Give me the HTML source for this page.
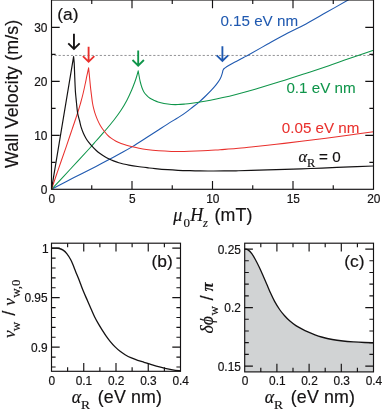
<!DOCTYPE html>
<html lang="en"><head><meta charset="utf-8"><title>Domain wall velocity</title>
<style>html,body{margin:0;padding:0;background:#fff}body{width:382px;height:414px;overflow:hidden}svg{display:block}text{font-family:"Liberation Sans",sans-serif;fill:#141213;stroke:#141213;stroke-width:0.18px}.an{stroke-width:0.06px}.se{font-family:"Liberation Serif",serif}.it{font-family:"Liberation Serif",serif;font-style:italic}.si{font-style:italic}.bd{font-weight:bold}.tk{font-size:11.9px}.lb{letter-spacing:0.15px}.ax{stroke:#141213;stroke-width:1.15;fill:none}.cv{fill:none;stroke-width:1.05;stroke-linejoin:round}.ar{fill:none;stroke-width:1.85;stroke-linejoin:miter;stroke-miterlimit:10}</style></head><body>
<svg width="382" height="414" viewBox="0 0 382 414">
<rect width="382" height="414" fill="#fff"/>
<defs><clipPath id="ca"><rect x="51.5" y="-1" width="322" height="190.3"/></clipPath></defs>
<path d="M51.5,55.45H373.5" stroke="#6d6e71" stroke-width="0.75" stroke-dasharray="2.2 1.917" stroke-dashoffset="1.16" fill="none"/>
<g clip-path="url(#ca)">
<path class="cv" style="stroke-width:1.1" stroke="#1f59b0" d="M51.5,189.3C55.25,187.35 66.58,181.42 74,177.6C81.42,173.78 90.23,169.37 96,166.4C101.77,163.43 104.42,162.03 108.6,159.8C112.78,157.57 117.13,155.2 121.1,153C125.07,150.8 128.2,149.13 132.4,146.6C136.6,144.07 141.9,140.62 146.3,137.8C150.7,134.98 154.62,132.4 158.8,129.7C162.98,127 167.87,123.82 171.4,121.6C174.93,119.38 177.52,117.98 180,116.4C182.48,114.82 184.2,113.63 186.3,112.1C188.4,110.57 190.52,108.83 192.6,107.2C194.68,105.57 196.72,104.08 198.8,102.3C200.88,100.52 203,98.52 205.1,96.5C207.2,94.48 209.52,92.22 211.4,90.2C213.28,88.18 214.93,86.3 216.4,84.4C217.87,82.5 219.25,80.57 220.2,78.8C221.15,77.03 221.65,75.18 222.1,73.8C222.55,72.42 222.77,71.05 222.9,70.5L222.9,70.5C223,70.3 223.22,69.67 223.5,69.3C223.78,68.93 223.73,68.93 224.6,68.3C225.47,67.67 226.77,66.65 228.7,65.5C230.63,64.35 233.65,62.77 236.2,61.4C238.75,60.03 241.9,58.42 244,57.3C246.1,56.18 244.85,56.9 248.8,54.7C252.75,52.5 261.2,47.7 267.7,44.1C274.2,40.5 281.42,36.47 287.8,33.1C294.18,29.73 299.63,27.32 306,23.9C312.37,20.48 318.98,16.58 326,12.6C333.02,8.62 343.6,2.57 348.1,0C352.6,-2.57 352.18,-2.33 353,-2.8"/>
<path class="cv" stroke="#0f954a" d="M51.5,189.3C54.58,186 63.6,176.38 70,169.5C76.4,162.62 85.57,152.75 89.9,148C94.23,143.25 93.57,143.77 96,141C98.43,138.23 101.57,134.82 104.5,131.4C107.43,127.98 110.85,124.02 113.6,120.5C116.35,116.98 118.8,113.63 121,110.3C123.2,106.97 125,103.92 126.8,100.5C128.6,97.08 130.43,92.97 131.8,89.8C133.17,86.63 134.17,83.8 135,81.5C135.83,79.2 136.27,77.78 136.8,76C137.33,74.22 137.97,71.67 138.2,70.8L138.2,70.8C138.37,71.75 138.85,74.63 139.2,76.5C139.55,78.37 139.83,80.12 140.3,82C140.77,83.88 141.4,86.13 142,87.8C142.6,89.47 143.08,90.7 143.9,92C144.72,93.3 145.88,94.57 146.9,95.6C147.92,96.63 148.85,97.43 150,98.2C151.15,98.97 152.47,99.57 153.8,100.2C155.13,100.83 156.3,101.45 158,102C159.7,102.55 161.77,103.08 164,103.5C166.23,103.92 169.07,104.32 171.4,104.5C173.73,104.68 175.7,104.68 178,104.6C180.3,104.52 182.87,104.23 185.2,104C187.53,103.77 189.53,103.52 192,103.2C194.47,102.88 196.93,102.6 200,102.1C203.07,101.6 206.58,100.95 210.4,100.2C214.22,99.45 218.63,98.57 222.9,97.6C227.17,96.63 230.63,95.8 236,94.4C241.37,93 247.72,91.33 255.1,89.2C262.48,87.07 271.92,84.22 280.3,81.6C288.68,78.98 297.3,76.15 305.4,73.5C313.5,70.85 321.85,68.1 328.9,65.7C335.95,63.3 340.27,61.68 347.7,59.1C355.13,56.52 369.2,51.68 373.5,50.2"/>
<path class="cv" stroke="#e9302d" d="M51.5,189.3C52.67,185.88 56.08,175.8 58.5,168.8C60.92,161.8 63.75,153.83 66,147.3C68.25,140.77 70.07,135.32 72,129.6C73.93,123.88 76.17,117.43 77.6,113C79.03,108.57 79.68,106.25 80.6,103C81.52,99.75 82.32,96.75 83.1,93.5C83.88,90.25 84.68,86.38 85.3,83.5C85.92,80.62 86.25,78.82 86.8,76.2C87.35,73.58 88.3,69.2 88.6,67.8L88.6,67.8C88.73,69.12 89.1,72.63 89.4,75.7C89.7,78.77 90.07,83.05 90.4,86.2C90.73,89.35 91.05,91.8 91.4,94.6C91.75,97.4 92.12,100.67 92.5,103C92.88,105.33 93.23,106.73 93.7,108.6C94.17,110.47 94.67,112.32 95.3,114.2C95.93,116.08 96.67,118.02 97.5,119.9C98.33,121.78 99.27,123.73 100.3,125.5C101.33,127.27 102.53,128.95 103.7,130.5C104.87,132.05 106.07,133.52 107.3,134.8C108.53,136.08 109.65,137.13 111.1,138.2C112.55,139.27 114.33,140.33 116,141.2C117.67,142.07 119.35,142.73 121.1,143.4C122.85,144.07 124.62,144.63 126.5,145.2C128.38,145.77 130.32,146.28 132.4,146.8C134.48,147.32 136.68,147.85 139,148.3C141.32,148.75 143,149.08 146.3,149.5C149.6,149.92 154.62,150.48 158.8,150.8C162.98,151.12 167.2,151.3 171.4,151.4C175.6,151.5 179.9,151.45 184,151.4C188.1,151.35 192,151.23 196,151.1C200,150.97 204,150.83 208,150.6C212,150.37 215.33,150.05 220,149.7C224.67,149.35 230.82,148.95 236,148.5C241.18,148.05 244.38,147.7 251.1,147C257.82,146.3 267.92,145.27 276.3,144.3C284.68,143.33 293.12,142.22 301.4,141.2C309.68,140.18 317.9,139.23 326,138.2C334.1,137.17 342.08,136.07 350,135C357.92,133.93 369.58,132.33 373.5,131.8"/>
<path class="cv" style="stroke-width:1.18" stroke="#141213" d="M51.5,189.3L73.6,56.6L73.6,56.6C73.7,57.67 74.05,60.68 74.2,63C74.35,65.32 74.38,67.52 74.5,70.5C74.62,73.48 74.75,77.42 74.9,80.9C75.05,84.38 75.22,88.55 75.4,91.4C75.58,94.25 75.82,96.07 76,98C76.18,99.93 76.23,100.5 76.5,103C76.77,105.5 77.1,110.08 77.6,113C78.1,115.92 78.9,118.1 79.5,120.5C80.1,122.9 80.53,125.23 81.2,127.4C81.87,129.57 82.67,131.62 83.5,133.5C84.33,135.38 85.32,137.22 86.2,138.7C87.08,140.18 87.8,141.13 88.8,142.4C89.8,143.67 91,145 92.2,146.3C93.4,147.6 94.7,149 96,150.2C97.3,151.4 98.58,152.45 100,153.5C101.42,154.55 102.97,155.58 104.5,156.5C106.03,157.42 107.7,158.27 109.2,159C110.7,159.73 111.9,160.27 113.5,160.9C115.1,161.53 117.13,162.28 118.8,162.8C120.47,163.32 121.82,163.62 123.5,164C125.18,164.38 126.53,164.68 128.9,165.1C131.27,165.52 134.52,166.05 137.7,166.5C140.88,166.95 145.1,167.45 148,167.8C150.9,168.15 151.82,168.28 155.1,168.6C158.38,168.92 163.88,169.42 167.7,169.7C171.52,169.98 174.28,170.13 178,170.3C181.72,170.47 186.33,170.6 190,170.7C193.67,170.8 196.33,170.85 200,170.9C203.67,170.95 208,170.99 212,171C216,171.01 220,170.98 224,170.95C228,170.92 231.48,170.89 236,170.8C240.52,170.71 244.38,170.6 251.1,170.4C257.82,170.2 267.92,169.87 276.3,169.6C284.68,169.33 293.78,169.05 301.4,168.8C309.02,168.55 313.9,168.42 322,168.1C330.1,167.78 341.42,167.25 350,166.9C358.58,166.55 369.58,166.15 373.5,166"/>
</g>
<path class="ar" stroke="#141213" d="M73.95,33.8V48.5M68.25,43.3L73.95,48.9L79.65,43.3"/>
<path class="ar" stroke="#e9302d" d="M88.6,46.8V61.4M82.9,56.2L88.6,61.8L94.3,56.2"/>
<path class="ar" stroke="#0f954a" d="M138.2,50.4V65.2M132.5,60L138.2,65.6L143.9,60"/>
<path class="ar" stroke="#1f59b0" d="M222.4,46.3V60.6M216.7,55.4L222.4,61L228.1,55.4"/>
<path class="ax" d="M132,189.3v-8.2M132,0v8.2M212.5,189.3v-8.2M212.5,0v8.2M293,189.3v-8.2M293,0v8.2M91.75,189.3v-4.1M91.75,0v4.1M172.25,189.3v-4.1M172.25,0v4.1M252.75,189.3v-4.1M252.75,0v4.1M333.25,189.3v-4.1M333.25,0v4.1M51.5,135.3h8.2M373.5,135.3h-8.2M51.5,81.3h8.2M373.5,81.3h-8.2M51.5,27.3h8.2M373.5,27.3h-8.2M51.5,162.3h4.1M373.5,162.3h-4.1M51.5,108.3h4.1M373.5,108.3h-4.1M51.5,54.3h4.1M373.5,54.3h-4.1"/>
<rect class="ax" x="51.5" y="0" width="322" height="189.3"/>
<text class="tk" x="51.8" y="202.5" text-anchor="middle">0</text>
<text class="tk" x="132.3" y="202.5" text-anchor="middle">5</text>
<text class="tk" x="212.8" y="202.5" text-anchor="middle">10</text>
<text class="tk" x="293.3" y="202.5" text-anchor="middle">15</text>
<text class="tk" x="373.8" y="202.5" text-anchor="middle">20</text>
<text class="tk" x="47.4" y="193.9" text-anchor="end">0</text>
<text class="tk" x="47.4" y="139.9" text-anchor="end">10</text>
<text class="tk" x="47.4" y="85.9" text-anchor="end">20</text>
<text class="tk" x="47.4" y="31.9" text-anchor="end">30</text>
<text x="57.3" y="19.7" font-size="17.4">(a)</text>
<text class="lb" transform="translate(17.6,168.0) rotate(-90)" font-size="17.8">Wall Velocity (m/s)</text>
<text><tspan x="173.3" y="221" class="it" font-size="18">μ</tspan><tspan x="183.4" y="227.4" class="se" font-size="13">0</tspan><tspan x="190.2" y="221" class="it" font-size="18">H</tspan><tspan x="203" y="227.3" class="it" font-size="12.5">z</tspan><tspan x="214.5" y="221.3" class="lb" font-size="17.8">(mT)</tspan></text>
<text x="220.4" y="26.1" class="an" font-size="15.2" style="fill:#1f59b0;stroke:#1f59b0">0.15 eV nm</text>
<text x="286.4" y="92.7" class="an" font-size="15.2" style="fill:#0f954a;stroke:#0f954a">0.1 eV nm</text>
<text x="281.8" y="132.7" class="an" font-size="15.2" style="fill:#e9302d;stroke:#e9302d">0.05 eV nm</text>
<text><tspan x="298.6" y="161.7" class="it" font-size="16.5">α</tspan><tspan x="307" y="166.5" class="se" font-size="12.3">R</tspan><tspan x="319" y="162.4" class="lb" font-size="15.2">=</tspan><tspan x="332.3" y="161.7" class="lb" font-size="15.2">0</tspan></text>
<path class="cv" stroke="#141213" style="stroke-width:1.3" d="M51.5,248.2C52.25,248.2 54.7,248.15 56,248.2C57.3,248.25 58.12,248.18 59.3,248.5C60.48,248.82 61.85,249.25 63.1,250.1C64.35,250.95 65.55,252.03 66.8,253.6C68.05,255.17 69.55,257.58 70.6,259.5C71.65,261.42 72.27,263.12 73.1,265.1C73.93,267.08 74.75,269.3 75.6,271.4C76.45,273.5 77.37,275.6 78.2,277.7C79.03,279.8 79.72,281.7 80.6,284C81.48,286.3 82.38,288.78 83.5,291.5C84.62,294.22 86.03,297.37 87.3,300.3C88.57,303.23 89.85,306.27 91.1,309.1C92.35,311.93 93.55,314.78 94.8,317.3C96.05,319.82 97.33,322.02 98.6,324.2C99.87,326.38 101.17,328.47 102.4,330.4C103.63,332.33 104.72,333.98 106,335.8C107.28,337.62 108.58,339.45 110.1,341.3C111.62,343.15 113.43,345.23 115.1,346.9C116.77,348.57 118.43,350 120.1,351.3C121.77,352.6 123.22,353.6 125.1,354.7C126.98,355.8 129.3,356.97 131.4,357.9C133.5,358.83 135.6,359.57 137.7,360.3C139.8,361.03 142.2,361.73 144,362.3C145.8,362.87 146.45,363.07 148.5,363.7C150.55,364.33 153.53,365.33 156.3,366.1C159.07,366.87 162.37,367.68 165.1,368.3C167.83,368.92 170.13,369.37 172.7,369.8C175.27,370.23 179.2,370.72 180.5,370.9"/>
<path class="ax" d="M83.75,371.3v-8.2M83.75,243.2v8.2M116,371.3v-8.2M116,243.2v8.2M148.25,371.3v-8.2M148.25,243.2v8.2M67.62,371.3v-4.1M67.62,243.2v4.1M99.88,371.3v-4.1M99.88,243.2v4.1M132.12,371.3v-4.1M132.12,243.2v4.1M164.38,371.3v-4.1M164.38,243.2v4.1M51.5,248.15h8.2M180.5,248.15h-8.2M51.5,297.65h8.2M180.5,297.65h-8.2M51.5,347.15h8.2M180.5,347.15h-8.2M51.5,258.05h4.1M180.5,258.05h-4.1M51.5,267.95h4.1M180.5,267.95h-4.1M51.5,277.85h4.1M180.5,277.85h-4.1M51.5,287.75h4.1M180.5,287.75h-4.1M51.5,307.55h4.1M180.5,307.55h-4.1M51.5,317.45h4.1M180.5,317.45h-4.1M51.5,327.35h4.1M180.5,327.35h-4.1M51.5,337.25h4.1M180.5,337.25h-4.1M51.5,357.05h4.1M180.5,357.05h-4.1M51.5,366.95h4.1M180.5,366.95h-4.1"/>
<rect class="ax" x="51.5" y="243.2" width="129" height="128.1"/>
<text class="tk" x="51.7" y="385.3" text-anchor="middle">0</text>
<text class="tk" x="83.95" y="385.3" text-anchor="middle">0.1</text>
<text class="tk" x="116.2" y="385.3" text-anchor="middle">0.2</text>
<text class="tk" x="148.45" y="385.3" text-anchor="middle">0.3</text>
<text class="tk" x="180.7" y="385.3" text-anchor="middle">0.4</text>
<text class="tk" x="48.6" y="252.85" text-anchor="end">1</text>
<text class="tk" x="47.6" y="302.35" text-anchor="end">0.95</text>
<text class="tk" x="47.6" y="351.85" text-anchor="end">0.9</text>
<text x="151.5" y="266.6" font-size="17.4">(b)</text>
<text><tspan x="71.8" y="402.9" class="it" font-size="17.8">α</tspan><tspan x="80.9" y="408.5" class="se" font-size="13.5">R</tspan><tspan x="97.8" y="403" class="lb" font-size="17.8">(eV nm)</tspan></text>
<text transform="rotate(-90)"><tspan x="-338" y="15" class="it" font-size="17.2">v</tspan><tspan x="-331.2" y="20.2" class="se" font-size="13">w</tspan><tspan x="-315.7" y="15" class="lb" font-size="18.4">/</tspan><tspan x="-305.7" y="15" class="it" font-size="17.2">v</tspan><tspan x="-297.7" y="20.2" class="se" font-size="13">w,0</tspan></text>
<path fill="#d1d3d4" d="M244.7,249.05C245.26,249.19 246.87,249.12 248.05,249.9C249.23,250.68 250.54,252.02 251.8,253.7C253.06,255.38 254.33,257.7 255.6,260C256.87,262.3 258.15,264.88 259.4,267.5C260.65,270.12 261.85,272.87 263.1,275.7C264.35,278.53 265.62,281.52 266.9,284.5C268.18,287.48 269.52,290.78 270.8,293.6C272.08,296.42 273.13,298.75 274.6,301.4C276.07,304.05 277.93,307.1 279.6,309.5C281.27,311.9 282.93,313.92 284.6,315.8C286.27,317.68 287.72,319.17 289.6,320.8C291.48,322.43 293.8,324.2 295.9,325.6C298,327 300.1,328.1 302.2,329.2C304.3,330.3 306.37,331.25 308.5,332.2C310.63,333.15 312.83,334.1 315,334.9C317.17,335.7 318.62,336.23 321.5,337C324.38,337.77 328.72,338.83 332.3,339.5C335.88,340.17 339.42,340.6 343,341C346.58,341.4 350.22,341.65 353.8,341.9C357.38,342.15 361.22,342.35 364.5,342.5C367.78,342.65 372,342.75 373.5,342.8L373.5,371.9L244.7,371.9Z"/>
<path class="cv" stroke="#141213" style="stroke-width:1.3" d="M244.7,249.05C245.26,249.19 246.87,249.12 248.05,249.9C249.23,250.68 250.54,252.02 251.8,253.7C253.06,255.38 254.33,257.7 255.6,260C256.87,262.3 258.15,264.88 259.4,267.5C260.65,270.12 261.85,272.87 263.1,275.7C264.35,278.53 265.62,281.52 266.9,284.5C268.18,287.48 269.52,290.78 270.8,293.6C272.08,296.42 273.13,298.75 274.6,301.4C276.07,304.05 277.93,307.1 279.6,309.5C281.27,311.9 282.93,313.92 284.6,315.8C286.27,317.68 287.72,319.17 289.6,320.8C291.48,322.43 293.8,324.2 295.9,325.6C298,327 300.1,328.1 302.2,329.2C304.3,330.3 306.37,331.25 308.5,332.2C310.63,333.15 312.83,334.1 315,334.9C317.17,335.7 318.62,336.23 321.5,337C324.38,337.77 328.72,338.83 332.3,339.5C335.88,340.17 339.42,340.6 343,341C346.58,341.4 350.22,341.65 353.8,341.9C357.38,342.15 361.22,342.35 364.5,342.5C367.78,342.65 372,342.75 373.5,342.8"/>
<path class="ax" d="M276.9,371.9v-8.2M276.9,243.2v8.2M309.1,371.9v-8.2M309.1,243.2v8.2M341.3,371.9v-8.2M341.3,243.2v8.2M260.8,371.9v-4.1M260.8,243.2v4.1M293,371.9v-4.1M293,243.2v4.1M325.2,371.9v-4.1M325.2,243.2v4.1M357.4,371.9v-4.1M357.4,243.2v4.1M244.7,249.05h8.2M373.5,249.05h-8.2M244.7,307.55h8.2M373.5,307.55h-8.2M244.7,366.05h8.2M373.5,366.05h-8.2M244.7,260.75h4.1M373.5,260.75h-4.1M244.7,272.45h4.1M373.5,272.45h-4.1M244.7,284.15h4.1M373.5,284.15h-4.1M244.7,295.85h4.1M373.5,295.85h-4.1M244.7,319.25h4.1M373.5,319.25h-4.1M244.7,330.95h4.1M373.5,330.95h-4.1M244.7,342.65h4.1M373.5,342.65h-4.1M244.7,354.35h4.1M373.5,354.35h-4.1"/>
<rect class="ax" x="244.7" y="243.2" width="128.8" height="128.7"/>
<text class="tk" x="245.1" y="385.3" text-anchor="middle">0</text>
<text class="tk" x="277.3" y="385.3" text-anchor="middle">0.1</text>
<text class="tk" x="309.5" y="385.3" text-anchor="middle">0.2</text>
<text class="tk" x="341.7" y="385.3" text-anchor="middle">0.3</text>
<text class="tk" x="373.9" y="385.3" text-anchor="middle">0.4</text>
<text class="tk" x="240.9" y="253.95" text-anchor="end">0.25</text>
<text class="tk" x="240.9" y="312.45" text-anchor="end">0.2</text>
<text class="tk" x="240.9" y="370.95" text-anchor="end">0.15</text>
<text x="344.3" y="266.8" font-size="17.4">(c)</text>
<text><tspan x="264.8" y="402.9" class="it" font-size="17.8">α</tspan><tspan x="273.9" y="408.5" class="se" font-size="13.5">R</tspan><tspan x="290.8" y="403" class="lb" font-size="17.8">(eV nm)</tspan></text>
<text transform="rotate(-90)"><tspan x="-333.5" y="212.6" class="it" font-size="17.8">δϕ</tspan><tspan x="-315.5" y="217.7" class="se" font-size="13">w</tspan><tspan x="-300.4" y="212.6" class="lb" font-size="18.4">/</tspan><tspan x="-291.2" y="212.6" class="it bd" font-size="16.2">π</tspan></text>
</svg></body></html>
